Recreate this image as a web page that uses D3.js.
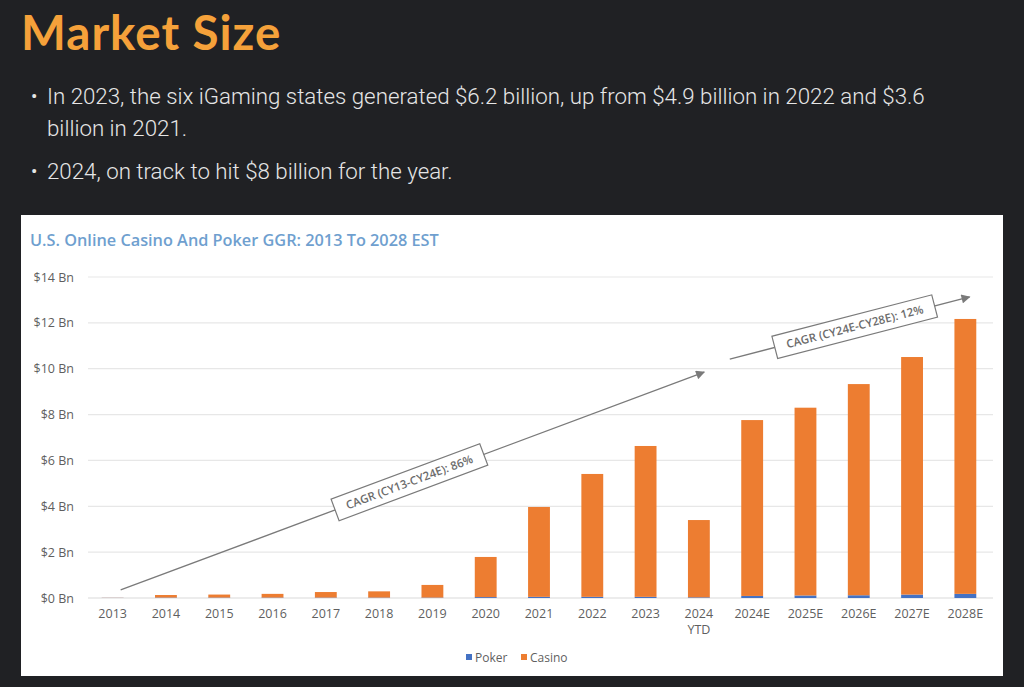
<!DOCTYPE html>
<html>
<head>
<meta charset="utf-8">
<script src="https://cdn.jsdelivr.net/npm/d3@7"></script>
<style>
  html, body { margin: 0; padding: 0; background: #202124; }
  svg { display: block; }
</style>
</head>
<body>
<svg id="chart"></svg>
<script>
const width = 1024
const height = 687

// Data
const years = ["2013", "2014", "2015", "2016", "2017", "2018", "2019", "2020", "2021", "2022", "2023", "2024", "2024E", "2025E", "2026E", "2027E", "2028E"]
const yearLabels = ["2013", "2014", "2015", "2016", "2017", "2018", "2019", "2020", "2021", "2022", "2023", "2024\nYTD", "2024E", "2025E", "2026E", "2027E", "2028E"]
const pokerValues = [0.005, 0.02, 0.02, 0.02, 0.02, 0.02, 0.02, 0.04, 0.05, 0.05, 0.05, 0.03, 0.09, 0.11, 0.12, 0.15, 0.18]
const casinoValues = [0.005, 0.11, 0.13, 0.16, 0.24, 0.27, 0.55, 1.75, 3.92, 5.36, 6.58, 3.37, 7.67, 8.19, 9.21, 10.36, 11.99]
const yTicks = [0, 2, 4, 6, 8, 10, 12, 14]
const seriesNames = ["Poker", "Casino"]

// CAGR arrows: start/end as [category, offset within step, value]
const cagrArrows = [
    { label: "CAGR (CY13-CY24E): 86%", from: ["2013", 0.15, 0.35], to: ["2024", 0.1, 9.85] },
    { label: "CAGR (CY24E-CY28E): 12%", from: ["2024", 0.58, 10.42], to: ["2028E", 0.08, 13.13] }
]

const bullets = [
    ["In 2023, the six iGaming states generated $6.2 billion, up from $4.9 billion in 2022 and $3.6", "billion in 2021."],
    ["2024, on track to hit $8 billion for the year."]
]

// Styles
const pokerColor = "#4472c4"
const casinoColor = "#ed7d31"
const gridColor = "#e7e7e7"
const labelColor = "#5f5f5f"
const chartFont = "'Open Sans', Lato, sans-serif"

const svg = d3.select("#chart")
    .attr("width", width)
    .attr("height", height)

svg.append("rect")
    .attr("width", width)
    .attr("height", height)
    .attr("fill", "#202124")

// Header
svg.append("text")
    .attr("x", 21)
    .attr("y", 50)
    .attr("fill", "#f5a13a")
    .attr("font-family", "Lato, sans-serif")
    .attr("font-weight", 700)
    .attr("font-size", 47.5)
    .attr("letter-spacing", 1)
    .text("Market Size")

const bulletTops = [104, 179]
bullets.forEach((lines, i) => {
    svg.append("text")
        .attr("x", 31)
        .attr("y", bulletTops[i] - 1)
        .attr("fill", "#e6e6e6")
        .attr("font-family", "Roboto, sans-serif")
        .attr("font-size", 19)
        .text("•")
    lines.forEach((line, j) => {
        svg.append("text")
            .attr("x", 47)
            .attr("y", bulletTops[i] + j * 32)
            .attr("fill", "#e6e6e6")
            .attr("font-family", "Roboto, sans-serif")
            .attr("font-weight", 300)
            .attr("font-size", 22.3)
            .text(line)
    })
})

// Chart panel
svg.append("rect")
    .attr("x", 21)
    .attr("y", 215)
    .attr("width", 982)
    .attr("height", 461)
    .attr("fill", "#ffffff")

svg.append("text")
    .attr("x", 30)
    .attr("y", 246)
    .attr("fill", "#6f9fcf")
    .attr("font-family", chartFont)
    .attr("font-weight", 600)
    .attr("font-size", 16.3)
    .text("U.S. Online Casino And Poker GGR: 2013 To 2028 EST")

const x = d3.scaleBand()
    .domain(years)
    .range([86, 992])
    .paddingInner(0.59)
    .paddingOuter(0.295)

const y = d3.scaleLinear()
    .domain([0, 14])
    .range([598, 277])

// Grid + y labels
const grid = svg.append("g")
grid.selectAll("line")
    .data(yTicks)
    .enter()
    .append("line")
    .attr("x1", 88)
    .attr("x2", 993)
    .attr("y1", d => y(d))
    .attr("y2", d => y(d))
    .attr("stroke", d => d === 0 ? "#d9d9d9" : gridColor)
    .attr("stroke-width", 1.2)

grid.selectAll("text")
    .data(yTicks)
    .enter()
    .append("text")
    .attr("x", 74)
    .attr("y", d => y(d) + 4.5)
    .attr("text-anchor", "end")
    .attr("fill", labelColor)
    .attr("font-family", chartFont)
    .attr("font-size", 12.5)
    .text(d => "$" + d + " Bn")

// Stacked bars
const table = years.map((yr, i) => ({ year: yr, Poker: pokerValues[i], Casino: casinoValues[i] }))
const stacked = d3.stack().keys(seriesNames)(table)
const colors = { Poker: pokerColor, Casino: casinoColor }

svg.append("g")
    .selectAll("g")
    .data(stacked)
    .enter()
    .append("g")
    .attr("fill", s => colors[s.key])
    .selectAll("rect")
    .data(s => s)
    .enter()
    .append("rect")
    .attr("x", d => x(d.data.year))
    .attr("width", x.bandwidth())
    .attr("y", d => y(d[1]))
    .attr("height", d => y(d[0]) - y(d[1]))

// X labels
const xLabels = svg.append("g")
    .selectAll("text")
    .data(years)
    .enter()
    .append("text")
    .attr("x", d => x(d) + x.bandwidth() / 2)
    .attr("y", 618)
    .attr("text-anchor", "middle")
    .attr("fill", labelColor)
    .attr("font-family", chartFont)
    .attr("font-size", 12.5)

xLabels.each(function (d, i) {
    const parts = yearLabels[i].split("\n")
    d3.select(this).selectAll("tspan")
        .data(parts)
        .enter()
        .append("tspan")
        .attr("x", x(d) + x.bandwidth() / 2)
        .attr("dy", (p, k) => k === 0 ? 0 : 16)
        .text(p => p)
})

// CAGR arrows
const defs = svg.append("defs")
defs.append("marker")
    .attr("id", "arrow")
    .attr("viewBox", "0 0 10 10")
    .attr("refX", 9)
    .attr("refY", 5)
    .attr("markerWidth", 10)
    .attr("markerHeight", 9)
    .attr("markerUnits", "userSpaceOnUse")
    .attr("orient", "auto")
    .append("path")
    .attr("d", "M0,0 L10,5 L0,10 Z")
    .attr("fill", "#7a7a7a")

function pointOf(p) {
    return [x(p[0]) - (x.step() - x.bandwidth()) / 2 + x.step() * (0.5 + p[1]), y(p[2])]
}

cagrArrows.forEach(a => {
    const [x1, y1] = pointOf(a.from)
    const [x2, y2] = pointOf(a.to)
    svg.append("line")
        .attr("x1", x1).attr("y1", y1)
        .attr("x2", x2).attr("y2", y2)
        .attr("stroke", "#7a7a7a")
        .attr("stroke-width", 1.3)
        .attr("marker-end", "url(#arrow)")

    const cx = (x1 + x2) / 2 + (a === cagrArrows[0] ? -3 : 5)
    const cy = y1 + (y2 - y1) * ((cx - x1) / (x2 - x1))
    const angle = Math.atan2(y2 - y1, x2 - x1) * 180 / Math.PI
    const g = svg.append("g")
        .attr("transform", `translate(${cx},${cy}) rotate(${angle})`)
    const t = g.append("text")
        .attr("text-anchor", "middle")
        .attr("y", 4)
        .attr("fill", "#6b6b6b")
        .attr("font-family", chartFont)
        .attr("font-weight", 600)
        .attr("font-size", 11.5)
        .text(a.label)
    const w = t.node().getComputedTextLength() + 24
    g.insert("rect", "text")
        .attr("x", -w / 2)
        .attr("y", -11.5)
        .attr("width", w)
        .attr("height", 23)
        .attr("fill", "#ffffff")
        .attr("stroke", "#7a7a7a")
        .attr("stroke-width", 1.2)
})

// Legend
const legend = svg.append("g")
    .attr("transform", "translate(466,662)")
const legendX = [0, 55]
seriesNames.forEach((name, i) => {
    legend.append("rect")
        .attr("x", legendX[i])
        .attr("y", -8)
        .attr("width", 6)
        .attr("height", 6)
        .attr("fill", colors[name])
    legend.append("text")
        .attr("x", legendX[i] + 9)
        .attr("y", 0)
        .attr("fill", labelColor)
        .attr("font-family", chartFont)
        .attr("font-size", 12)
        .text(name)
})
</script>
</body>
</html>
